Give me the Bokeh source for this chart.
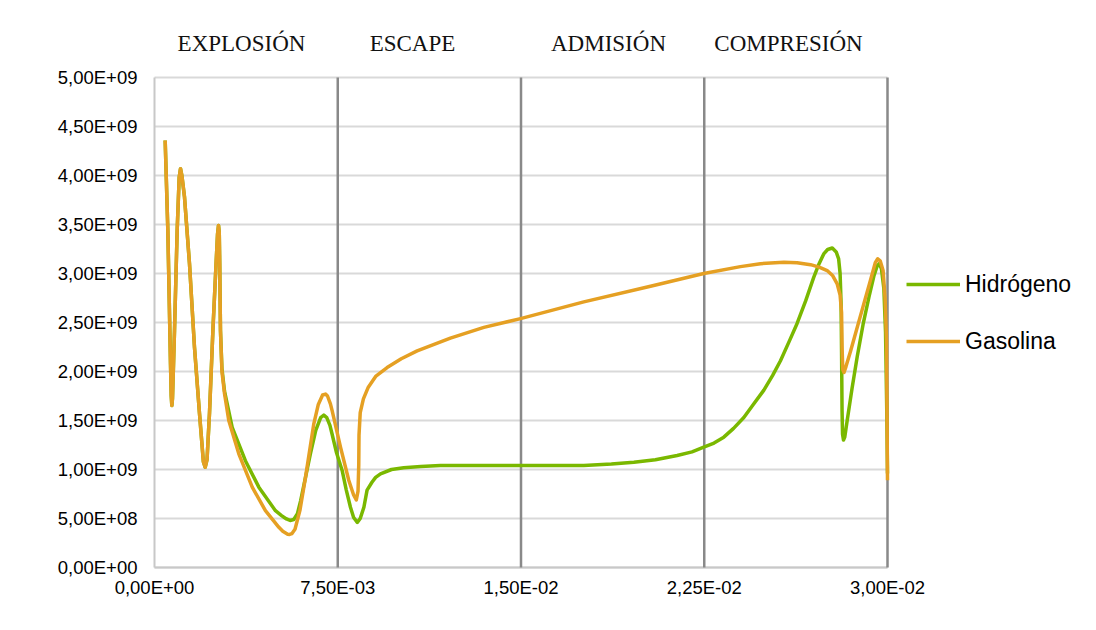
from bokeh.plotting import figure
from bokeh.models import Range1d, FixedTicker, Legend, LegendItem
from bokeh.core.properties import value
from bokeh.embed import file_html
from bokeh.resources import INLINE

# ---------------- data ----------------
series_names = ["Hidrógeno", "Gasolina"]

gas_x = [4.37e-4, 5.46e-4, 6.55e-4, 6.85e-4, 7.09e-4, 7.35e-4, 7.7e-4, 8.19e-4, 9.28e-4, 1.01e-3,
         1.064e-3, 1.12e-3, 1.228e-3, 1.432e-3, 1.637e-3, 1.842e-3, 2.0e-3, 2.074e-3, 2.15e-3, 2.25e-3,
         2.39e-3, 2.52e-3, 2.58e-3, 2.62e-3, 2.65e-3, 2.67e-3, 2.70e-3, 2.76e-3, 2.865e-3, 3.04e-3,
         3.45e-3, 4.0e-3, 4.54e-3, 5.09e-3, 5.25e-3, 5.45e-3, 5.53e-3, 5.62e-3, 5.75e-3, 5.95e-3,
         6.18e-3, 6.52e-3, 6.70e-3, 6.88e-3, 7.0e-3, 7.08e-3, 7.20e-3, 7.27e-3, 7.61e-3, 7.95e-3,
         8.15e-3, 8.26e-3, 8.33e-3, 8.36e-3, 8.37e-3, 8.42e-3, 8.55e-3, 8.75e-3, 9.05e-3, 9.52e-3,
         1.01e-2, 1.075e-2, 1.211e-2, 1.348e-2, 1.498e-2, 1.757e-2, 2.03e-2, 2.248e-2, 2.398e-2, 2.48e-2,
         2.576e-2, 2.63e-2, 2.685e-2, 2.72e-2, 2.753e-2, 2.775e-2, 2.794e-2, 2.806e-2, 2.812e-2, 2.814e-2,
         2.817e-2, 2.822e-2, 2.83e-2, 2.849e-2, 2.903e-2, 2.93e-2, 2.95e-2, 2.96e-2, 2.97e-2, 2.982e-2,
         2.990e-2, 2.996e-2, 3.0e-2]
gas_y = [4.357e9, 3.44e9, 2.08e9, 1.75e9, 1.653e9, 1.72e9, 2.0e9, 2.42e9, 3.44e9, 3.98e9,
         4.07e9, 4.0e9, 3.78e9, 3.10e9, 2.245e9, 1.57e9, 1.08e9, 1.023e9, 1.10e9, 1.57e9,
         2.42e9, 3.10e9, 3.40e9, 3.49e9, 3.42e9, 3.10e9, 2.42e9, 2.0e9, 1.775e9, 1.50e9,
         1.16e9, 0.82e9, 0.58e9, 0.41e9, 0.37e9, 0.34e9, 0.337e9, 0.345e9, 0.39e9, 0.58e9,
         0.92e9, 1.466e9, 1.66e9, 1.76e9, 1.77e9, 1.75e9, 1.67e9, 1.60e9, 1.23e9, 0.89e9,
         0.74e9, 0.69e9, 0.78e9, 1.05e9, 1.35e9, 1.58e9, 1.72e9, 1.84e9, 1.95e9, 2.04e9,
         2.13e9, 2.21e9, 2.34e9, 2.45e9, 2.54e9, 2.71e9, 2.87e9, 3.0e9, 3.07e9, 3.10e9,
         3.115e9, 3.11e9, 3.09e9, 3.065e9, 3.03e9, 2.98e9, 2.895e9, 2.78e9, 2.60e9, 2.25e9,
         2.02e9, 1.99e9, 2.05e9, 2.21e9, 2.69e9, 2.93e9, 3.11e9, 3.15e9, 3.13e9, 3.03e9,
         2.75e9, 2.32e9, 0.89e9]

h2_x = [4.37e-4, 5.46e-4, 6.55e-4, 6.85e-4, 7.09e-4, 7.35e-4, 7.7e-4, 8.19e-4, 9.28e-4, 1.01e-3,
        1.064e-3, 1.12e-3, 1.228e-3, 1.432e-3, 1.637e-3, 1.842e-3, 2.0e-3, 2.074e-3, 2.15e-3, 2.25e-3,
        2.39e-3, 2.52e-3, 2.58e-3, 2.62e-3, 2.65e-3, 2.67e-3, 2.70e-3, 2.76e-3, 2.865e-3, 3.18e-3,
        3.72e-3, 4.27e-3, 4.95e-3, 5.2e-3, 5.40e-3, 5.55e-3, 5.70e-3, 5.85e-3, 5.98e-3, 6.18e-3,
        6.38e-3, 6.60e-3, 6.80e-3, 6.93e-3, 7.05e-3, 7.18e-3, 7.27e-3, 7.45e-3, 7.68e-3, 7.85e-3,
        8.02e-3, 8.15e-3, 8.30e-3, 8.42e-3, 8.57e-3, 8.70e-3, 8.90e-3, 9.05e-3, 9.25e-3, 9.70e-3,
        1.02e-2, 1.09e-2, 1.17e-2, 1.498e-2, 1.757e-2, 1.87e-2, 1.962e-2, 2.05e-2, 2.139e-2, 2.20e-2,
        2.248e-2, 2.29e-2, 2.33e-2, 2.37e-2, 2.412e-2, 2.45e-2, 2.494e-2, 2.53e-2, 2.562e-2, 2.60e-2,
        2.63e-2, 2.665e-2, 2.698e-2, 2.72e-2, 2.739e-2, 2.755e-2, 2.774e-2, 2.79e-2, 2.80e-2, 2.806e-2,
        2.810e-2, 2.812e-2, 2.814e-2, 2.816e-2, 2.82e-2, 2.825e-2, 2.835e-2, 2.855e-2, 2.876e-2, 2.90e-2,
        2.924e-2, 2.945e-2, 2.958e-2, 2.966e-2, 2.975e-2, 2.985e-2, 2.992e-2, 2.997e-2, 3.0e-2]
h2_y = [4.357e9, 3.44e9, 2.08e9, 1.75e9, 1.653e9, 1.72e9, 2.0e9, 2.42e9, 3.44e9, 3.98e9,
        4.07e9, 4.0e9, 3.78e9, 3.10e9, 2.245e9, 1.57e9, 1.08e9, 1.023e9, 1.10e9, 1.57e9,
        2.42e9, 3.10e9, 3.40e9, 3.49e9, 3.42e9, 3.10e9, 2.42e9, 2.03e9, 1.80e9, 1.43e9,
        1.09e9, 0.82e9, 0.58e9, 0.53e9, 0.495e9, 0.48e9, 0.49e9, 0.55e9, 0.68e9, 0.92e9,
        1.16e9, 1.40e9, 1.53e9, 1.555e9, 1.53e9, 1.45e9, 1.36e9, 1.17e9, 0.99e9, 0.79e9,
        0.615e9, 0.51e9, 0.46e9, 0.50e9, 0.615e9, 0.79e9, 0.87e9, 0.92e9, 0.956e9, 1.0e9,
        1.017e9, 1.03e9, 1.04e9, 1.04e9, 1.04e9, 1.055e9, 1.075e9, 1.10e9, 1.143e9, 1.18e9,
        1.228e9, 1.27e9, 1.33e9, 1.42e9, 1.53e9, 1.66e9, 1.81e9, 1.96e9, 2.11e9, 2.32e9,
        2.49e9, 2.72e9, 2.96e9, 3.10e9, 3.2e9, 3.245e9, 3.26e9, 3.22e9, 3.15e9, 3.0e9,
        2.7e9, 2.2e9, 1.6e9, 1.36e9, 1.30e9, 1.33e9, 1.5e9, 1.83e9, 2.15e9, 2.48e9,
        2.76e9, 2.98e9, 3.08e9, 3.10e9, 3.05e9, 2.85e9, 2.4e9, 1.6e9, 0.96e9]

phases = ["EXPLOSIÓN", "ESCAPE", "ADMISIÓN", "COMPRESIÓN"]
phase_bounds = [0.0075, 0.015, 0.0225, 0.03]

x_ticks = [0.0, 0.0075, 0.015, 0.0225, 0.03]
x_tick_labels = ["0,00E+00", "7,50E-03", "1,50E-02", "2,25E-02", "3,00E-02"]
y_ticks = [0.0, 5e8, 1e9, 1.5e9, 2e9, 2.5e9, 3e9, 3.5e9, 4e9, 4.5e9, 5e9]
y_tick_labels = ["0,00E+00", "5,00E+08", "1,00E+09", "1,50E+09", "2,00E+09", "2,50E+09",
                 "3,00E+09", "3,50E+09", "4,00E+09", "4,50E+09", "5,00E+09"]

# ---------------- styling / layout ----------------
GREEN = "#7ab800"
ORANGE = "#e5a023"
GRID = "#d9d9d9"
AXIS = "#c8c8c8"
DARK = "#898989"
x_min, x_max = 0.0, 0.03
y_min, y_max = 0.0, 5e9

# screen geometry: plot area 0..0.03 spans page x 154..887, 0..5e9 spans page y 567..77
W, H = 1090, 625
px_x = (x_max - x_min) / 733.0
px_y = (y_max - y_min) / 490.0
frame_left, frame_right, frame_top, frame_bottom = 152, W, 18, 569
x_lo = x_min - (154 - frame_left) * px_x
x_hi = x_lo + (frame_right - frame_left) * px_x     # room on the right for the legend
y_lo = y_min - (frame_bottom - 567) * px_y
y_hi = y_lo + (frame_bottom - frame_top) * px_y     # room on top for the phase titles
label_y = y_min + (567 - 43) * px_y
label_x = [x_min + (c - 154) * px_x for c in (241, 412, 608, 788)]

p = figure(width=W, height=H, x_range=Range1d(x_lo, x_hi), y_range=Range1d(y_lo, y_hi),
           output_backend="svg", toolbar_location=None,
           min_border_left=frame_left, min_border_right=W - frame_right,
           min_border_top=frame_top, min_border_bottom=H - frame_bottom)
p.outline_line_color = None
p.background_fill_color = "white"
p.border_fill_color = "white"
p.grid.visible = False

# axes (labels only)
p.xaxis.ticker = FixedTicker(ticks=x_ticks)
p.xaxis.major_label_overrides = {t: l for t, l in zip(x_ticks, x_tick_labels)}
p.yaxis.ticker = FixedTicker(ticks=y_ticks)
p.yaxis.major_label_overrides = {t: l for t, l in zip(y_ticks, y_tick_labels)}
for ax in (p.xaxis, p.yaxis):
    ax.axis_line_color = None
    ax.major_tick_line_color = None
    ax.minor_tick_line_color = None
    ax.major_tick_out = 0
    ax.major_tick_in = 0
    ax.major_label_text_font = "Liberation Sans"
    ax.major_label_text_font_size = "18.5px"
    ax.major_label_text_color = "#000000"
p.xaxis.major_label_standoff = 7
p.yaxis.major_label_standoff = 15

# horizontal gridlines, plot-area border and phase separators
p.segment(x0=[x_min] * len(y_ticks), y0=y_ticks, x1=[x_max] * len(y_ticks), y1=y_ticks,
          line_color=GRID, line_width=2)
p.segment(x0=[x_min, x_min], y0=[y_min, y_min], x1=[x_min, x_max], y1=[y_max, y_min],
          line_color=AXIS, line_width=2)
p.segment(x0=phase_bounds, y0=[y_min] * 4, x1=phase_bounds, y1=[y_max] * 4,
          line_color=DARK, line_width=2.5)

# series
r_h2 = p.line(h2_x, h2_y, line_color=GREEN, line_width=3.5, line_join="round")
r_gas = p.line(gas_x, gas_y, line_color=ORANGE, line_width=3.5, line_join="round")

# phase titles
p.text(x=label_x, y=[label_y] * 4, text=phases, text_font=value("Liberation Serif"),
       text_font_size="23px", text_align="center", text_baseline="middle", text_color="#111111")

legend = Legend(items=[LegendItem(label=series_names[0], renderers=[r_h2]),
                       LegendItem(label=series_names[1], renderers=[r_gas])],
                location=(906 - frame_left, frame_bottom - 356))
legend.border_line_color = None
legend.background_fill_alpha = 0
legend.padding = 0
legend.margin = 0
legend.glyph_width = 54
legend.glyph_height = 30
legend.label_height = 30
legend.label_standoff = 5
legend.spacing = 27
legend.label_text_font = "Liberation Sans"
legend.label_text_font_size = "23px"
legend.label_text_color = "#000000"
p.add_layout(legend, "center")

open("out.html", "w").write(file_html(p, INLINE))
